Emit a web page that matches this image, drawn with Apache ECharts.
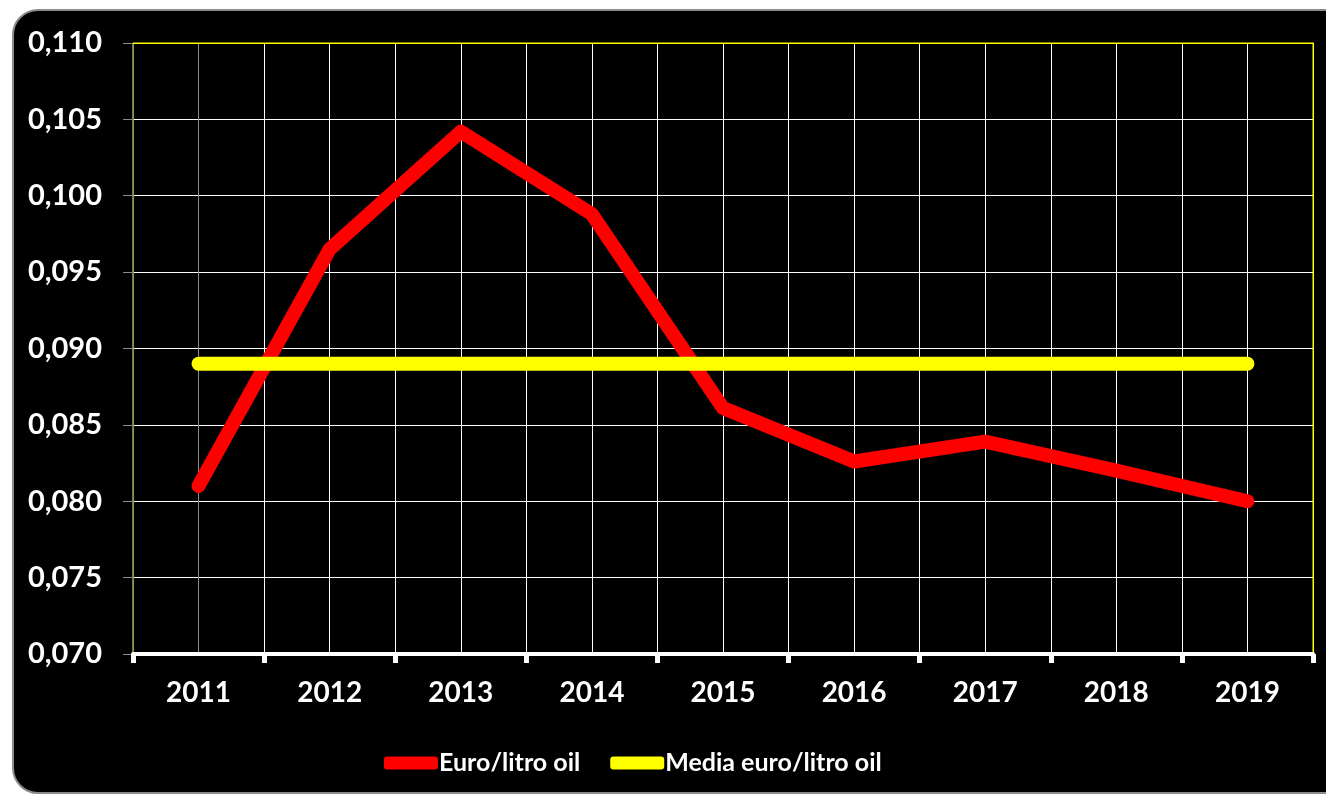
<!DOCTYPE html>
<html>
<head>
<meta charset="utf-8">
<script src="https://cdn.jsdelivr.net/npm/echarts@6/dist/echarts.min.js"></script>
<style>
    html, body { margin: 0; padding: 0; background: #ffffff; }
    #frame {
        position: absolute; left: 12px; top: 9px; width: 1340px; height: 781px;
        background: #000000; border: 2px solid #8c8c8c; border-radius: 26px;
    }
    #chart { position: absolute; left: 0; top: 0; width: 1326px; height: 794px; }
</style>
</head>
<body>
<div id="frame"></div>
<div id="chart"></div>
<script>
// data
const years = ["2011", "2012", "2013", "2014", "2015", "2016", "2017", "2018", "2019"];
const euroLitro = [0.0810, 0.0965, 0.1042, 0.0988, 0.0861, 0.0826, 0.0839, 0.0820, 0.0800];
const mediaEuroLitro = [0.0890, 0.0890, 0.0890, 0.0890, 0.0890, 0.0890, 0.0890, 0.0890, 0.0890];
const seriesNames = ["Euro/litro oil", "Media euro/litro oil"];
const yMin = 0.070, yMax = 0.110, yStep = 0.005;

const font = "Lato, 'Open Sans', sans-serif";

// vertical grid lines every half category: grey on the left edge, yellow on the right edge
const xLineCount = years.length * 2 + 1;
const xLineColors = [];
for (let i = 0; i < xLineCount; i++) xLineColors.push(i === 0 ? "#8c8c8c" : (i === xLineCount - 1 ? "#ffff00" : "#ffffff"));

let chart = echarts.init(document.getElementById("chart"));

let option = {
    backgroundColor: "transparent",
    animation: false,
    grid: {
        left: 133, right: 13, top: 43, bottom: 140,
        show: true, borderColor: "#ffff00", borderWidth: 1, backgroundColor: "transparent", z: 1
    },
    legend: {
        left: 379, top: 745,
        itemWidth: 54, itemHeight: 13, itemGap: 30,
        icon: "roundRect",
        textStyle: { color: "#ffffff", fontFamily: font, fontWeight: "bold", fontSize: 25, lineHeight: 26, padding: [0, 0, 0, -4] },
        data: seriesNames
    },
    xAxis: [
        {
            type: "category",
            data: years,
            boundaryGap: true,
            axisLine: { lineStyle: { color: "#ffffff", width: 4 } },
            axisTick: { show: true, interval: 0, length: 9, lineStyle: { color: "#ffffff", width: 5 } },
            axisLabel: { color: "#ffffff", fontFamily: font, fontWeight: "bold", fontSize: 28, margin: 25 },
            splitLine: { show: false },
            z: 6
        },
        {
            // half-category grid lines and the yellow top border
            type: "value",
            position: "top",
            min: 0, max: years.length * 2, interval: 1,
            axisLine: { show: true, onZero: false, lineStyle: { color: "#ffff00", width: 1 } },
            axisTick: { show: false },
            axisLabel: { show: false },
            splitLine: { show: true, showMinLine: false, lineStyle: { color: xLineColors, width: 1 } },
            z: 3
        }
    ],
    yAxis: [
        {
            type: "value",
            min: yMin, max: yMax, interval: yStep,
            axisLine: { show: true, lineStyle: { color: "#8c8c8c", width: 1 } },
            axisTick: { show: true, length: 10, lineStyle: { color: "#8c8c8c" } },
            axisLabel: {
                color: "#ffffff", fontFamily: font, fontWeight: "bold", fontSize: 29, margin: 31,
                formatter: v => v.toFixed(3).replace(".", ",")
            },
            splitLine: { show: true, lineStyle: { color: "#ffffff", width: 1 } },
            z: 2
        },
        {
            // yellow right border
            type: "value",
            position: "right",
            min: yMin, max: yMax, interval: yStep,
            axisLine: { show: true, onZero: false, lineStyle: { color: "#ffff00", width: 1 } },
            axisTick: { show: false },
            axisLabel: { show: false },
            splitLine: { show: false },
            z: 3
        }
    ],
    series: [
        {
            name: seriesNames[0],
            type: "line",
            data: euroLitro,
            symbol: "none",
            itemStyle: { color: "#ff0000" },
            lineStyle: { color: "#ff0000", width: 14, cap: "round", join: "round" },
            z: 4
        },
        {
            name: seriesNames[1],
            type: "line",
            data: mediaEuroLitro,
            symbol: "none",
            itemStyle: { color: "#ffff00" },
            lineStyle: { color: "#ffff00", width: 14, cap: "round" },
            z: 5
        }
    ]
};

chart.setOption(option);
</script>
</body>
</html>
